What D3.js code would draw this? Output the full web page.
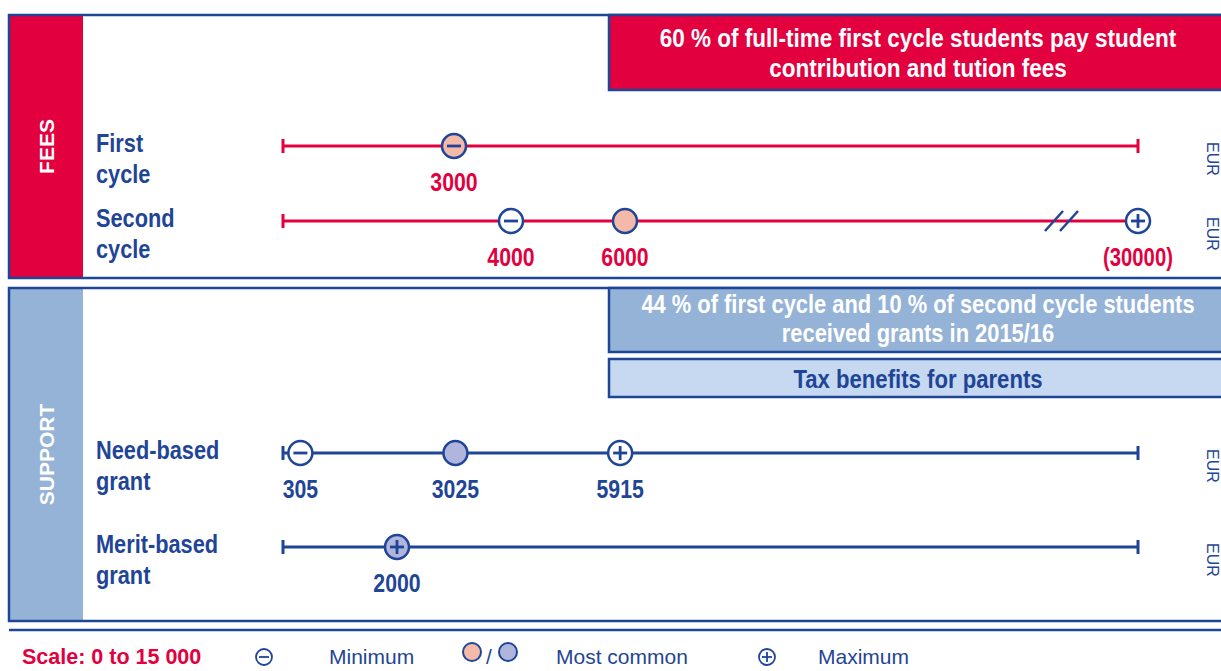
<!DOCTYPE html>
<html>
<head>
<meta charset="utf-8">
<script src="https://cdn.jsdelivr.net/npm/d3@7"></script>
<style>
  body { margin: 0; background: #fff; }
  svg { display: block; }
</style>
</head>
<body>
<div id="chart"></div>
<script>
// Data
const rowLabels = [['First', 'cycle'], ['Second', 'cycle'], ['Need-based', 'grant'], ['Merit-based', 'grant']];
const rowGroups = ['fees', 'fees', 'support', 'support'];
const minValues = [3000, 4000, 305, null];
const commonValues = [3000, 6000, 3025, 2000];
const maxValues = [null, 30000, 5915, 2000];
const scaleDomain = [0, 15000];
const unitLabel = 'EUR';
const feesNote = ['60 % of full-time first cycle students pay student', 'contribution and tution fees'];
const grantsNote = ['44 % of first cycle and 10 % of second cycle students', 'received grants in 2015/16'];
const taxNote = 'Tax benefits for parents';
const legendScale = 'Scale: 0 to 15 000';

// Layout + colours
const width = 1221, height = 671;
const navy = '#1f4597';
const red = '#e2003f';
const salmon = '#f4b9a9';
const lavender = '#b0b5de';
const steel = '#95b3d7';
const pale = '#c6d9f1';
const sans = "'Liberation Sans', Arial, sans-serif";
const rowY = [146, 221, 453, 547];
const groupColor = { fees: red, support: navy };
const groupFill = { fees: salmon, support: lavender };

// squeeze a text horizontally (no condensed face installed)
function condense(sel, k) {
  sel.each(function() {
    const len = this.getComputedTextLength();
    d3.select(this).attr('textLength', len * k).attr('lengthAdjust', 'spacingAndGlyphs');
  });
  return sel;
}

const svg = d3.select('#chart').append('svg')
  .attr('width', width)
  .attr('height', height);

const x = d3.scaleLinear().domain(scaleDomain).range([283, 1138]).clamp(true);

// Panels
function panel(y0, y1, sideFill, sideText) {
  svg.append('rect').attr('x', 9).attr('y', y0).attr('width', 74).attr('height', y1 - y0)
    .attr('fill', sideFill);
  svg.append('rect').attr('x', 9).attr('y', y0).attr('width', width + 10).attr('height', y1 - y0)
    .attr('fill', 'none').attr('stroke', navy).attr('stroke-width', 2.5);
  svg.append('text')
    .attr('transform', `translate(54,${(y0 + y1) / 2}) rotate(-90)`)
    .attr('text-anchor', 'middle')
    .attr('fill', '#fff')
    .style('font-family', sans)
    .style('font-weight', 'bold')
    .style('font-size', '21px')
    .text(sideText);
}
panel(15, 278, red, 'FEES');
panel(288, 621, steel, 'SUPPORT');

// Note boxes
function noteBox(y0, y1, fill, lines, color, lineY, k) {
  svg.append('rect').attr('x', 609).attr('y', y0).attr('width', width).attr('height', y1 - y0)
    .attr('fill', fill).attr('stroke', navy).attr('stroke-width', 2.5);
  lines.forEach((t, i) => {
    const txt = svg.append('text')
      .attr('x', 918).attr('y', lineY[i])
      .attr('text-anchor', 'middle')
      .attr('fill', color)
      .style('font-family', sans)
      .style('font-weight', 'bold')
      .style('font-size', '25px')
      .text(t);
    condense(txt, k);
  });
}
noteBox(15, 90, red, feesNote, '#fff', [47, 77], 0.9);
noteBox(288, 352, steel, grantsNote, '#fff', [313, 342], 0.875);
noteBox(359, 397, pale, [taxNote], navy, [388], 0.885);

// Rows
rowLabels.forEach((lab, i) => {
  const y = rowY[i];
  const col = groupColor[rowGroups[i]];
  const fill = groupFill[rowGroups[i]];
  const g = svg.append('g');

  lab.forEach((t, k) => {
    const txt = g.append('text')
      .attr('x', 96).attr('y', y + 6 + k * 31)
      .attr('fill', navy)
      .style('font-family', sans)
      .style('font-weight', 'bold')
      .style('font-size', '25px')
      .text(t);
    condense(txt, 0.87);
  });

  // scale line with end ticks
  g.append('line').attr('x1', x(scaleDomain[0])).attr('x2', x(scaleDomain[1]))
    .attr('y1', y).attr('y2', y).attr('stroke', col).attr('stroke-width', 3);
  scaleDomain.forEach(v => {
    g.append('line').attr('x1', x(v)).attr('x2', x(v))
      .attr('y1', y - 7).attr('y2', y + 7).attr('stroke', col).attr('stroke-width', 3);
  });

  // markers, merging equal values
  const markers = [];
  [['min', minValues[i]], ['common', commonValues[i]], ['max', maxValues[i]]].forEach(([kind, v]) => {
    if (v == null) return;
    let m = markers.find(d => d.value === v);
    if (!m) { m = { value: v }; markers.push(m); }
    m[kind] = true;
  });

  markers.forEach(m => {
    const cx = x(m.value);
    const off = m.value > scaleDomain[1];
    if (off) {
      [-93, -78].forEach(dx => {
        g.append('line')
          .attr('x1', cx + dx).attr('y1', y + 10)
          .attr('x2', cx + dx + 18).attr('y2', y - 10)
          .attr('stroke', navy).attr('stroke-width', 2.5);
      });
    }
    g.append('circle').attr('cx', cx).attr('cy', y).attr('r', 12)
      .attr('fill', m.common ? fill : '#fff')
      .attr('stroke', navy).attr('stroke-width', 2.5);
    if (m.min || m.max) {
      g.append('line').attr('x1', cx - 7).attr('x2', cx + 7).attr('y1', y).attr('y2', y)
        .attr('stroke', navy).attr('stroke-width', 2.8);
    }
    if (m.max) {
      g.append('line').attr('x1', cx).attr('x2', cx).attr('y1', y - 7).attr('y2', y + 7)
        .attr('stroke', navy).attr('stroke-width', 2.8);
    }
    const lbl = g.append('text')
      .attr('x', cx).attr('y', y + 45)
      .attr('text-anchor', 'middle')
      .attr('fill', col)
      .style('font-family', sans)
      .style('font-weight', 'bold')
      .style('font-size', '25px')
      .text(off ? `(${m.value})` : m.value);
    condense(lbl, off ? 0.81 : 0.85);
  });

  // unit
  g.append('text')
    .attr('transform', `translate(1207,${y - 4}) rotate(90)`)
    .attr('fill', navy)
    .style('font-family', sans)
    .style('font-size', '16px')
    .text(unitLabel);
});

// Legend
svg.append('line').attr('x1', 9).attr('x2', width).attr('y1', 630).attr('y2', 630)
  .attr('stroke', navy).attr('stroke-width', 2.5);

const ly = 664;
svg.append('text').attr('x', 22).attr('y', ly).attr('fill', red)
  .style('font-family', sans).style('font-weight', 'bold').style('font-size', '21.5px')
  .text(legendScale);

function legendText(tx, t) {
  svg.append('text').attr('x', tx).attr('y', ly).attr('fill', navy)
    .style('font-family', sans).style('font-size', '21px').text(t);
}
function legendSymbol(cx, sign) {
  svg.append('circle').attr('cx', cx).attr('cy', 657).attr('r', 8)
    .attr('fill', '#fff').attr('stroke', navy).attr('stroke-width', 1.8);
  svg.append('line').attr('x1', cx - 5).attr('x2', cx + 5).attr('y1', 657).attr('y2', 657)
    .attr('stroke', navy).attr('stroke-width', 1.8);
  if (sign === '+') {
    svg.append('line').attr('x1', cx).attr('x2', cx).attr('y1', 652).attr('y2', 662)
      .attr('stroke', navy).attr('stroke-width', 1.8);
  }
}
legendSymbol(264, '-');
legendText(329, 'Minimum');
[[472, salmon], [508, lavender]].forEach(([cx, f]) => {
  svg.append('circle').attr('cx', cx).attr('cy', 652).attr('r', 9)
    .attr('fill', f).attr('stroke', navy).attr('stroke-width', 2);
});
legendText(486, '/');
legendText(556, 'Most common');
legendSymbol(767, '+');
legendText(818, 'Maximum');
</script>
</body>
</html>
